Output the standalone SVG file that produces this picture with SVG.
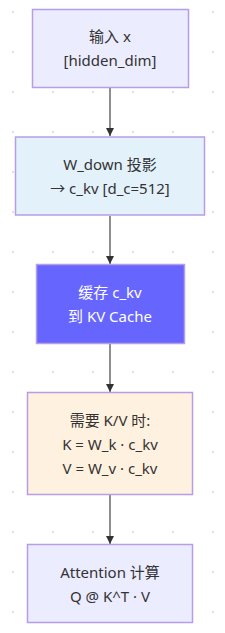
<svg xmlns="http://www.w3.org/2000/svg" width="225" height="633" viewBox="0 0 225 633">
<defs>
<pattern id="dots" x="0" y="0" width="40" height="40" patternUnits="userSpaceOnUse">
<rect x="12" y="11" width="2" height="2" fill="#e0e0e0"/>
</pattern>
<marker id="arr" markerWidth="9" markerHeight="9" refX="8" refY="4" orient="auto" markerUnits="userSpaceOnUse">
<path d="M0,0 L8,4 L0,8 z" fill="#333333"/>
</marker>
</defs>
<style>
.n{stroke:#b79de6;stroke-width:1.5}
.t{font-family:"Noto Sans","Noto Sans CJK SC",sans-serif;font-size:15px;fill:#333333;text-anchor:middle;dominant-baseline:central}
.w{fill:#ffffff}
.e{stroke:#444444;stroke-width:1.2;fill:none;marker-end:url(#arr)}
</style>
<rect width="225" height="633" fill="#ffffff"/>
<rect width="225" height="633" fill="url(#dots)"/>
<g id="edges">
<line class="e" x1="110" y1="88" x2="110" y2="136"/>
<line class="e" x1="110" y1="216" x2="110" y2="264"/>
<line class="e" x1="110" y1="344" x2="110" y2="392"/>
<line class="e" x1="110" y1="495" x2="110" y2="544"/>
</g>
<g id="n1">
<rect class="n" x="32.5" y="9.5" width="156" height="78" fill="#ececff"/>
<text class="t" x="110" y="36">输入 x</text>
<text class="t" x="110" y="60">[hidden_dim]</text>
</g>
<g id="n2">
<rect class="n" x="15.5" y="137" width="189" height="78" fill="#e3f1fb"/>
<text class="t" x="110" y="164">W_down 投影</text>
<text class="t" x="110" y="188">→ c_kv [d_c=512]</text>
</g>
<g id="n3">
<rect class="n" x="36.5" y="264.5" width="148" height="79" fill="#6666ff"/>
<text class="t w" x="110" y="292">缓存 c_kv</text>
<text class="t w" x="110" y="316">到 KV Cache</text>
</g>
<g id="n4">
<rect class="n" x="27.5" y="392.5" width="165" height="102" fill="#fff1df"/>
<text class="t" x="110" y="420">需要 K/V 时:</text>
<text class="t" x="110" y="444">K = W_k · c_kv</text>
<text class="t" x="110" y="468">V = W_v · c_kv</text>
</g>
<g id="n5">
<rect class="n" x="27.5" y="544.5" width="165" height="78" fill="#ececff"/>
<text class="t" x="110" y="572">Attention 计算</text>
<text class="t" x="110" y="596">Q @ K^T · V</text>
</g>
</svg>
